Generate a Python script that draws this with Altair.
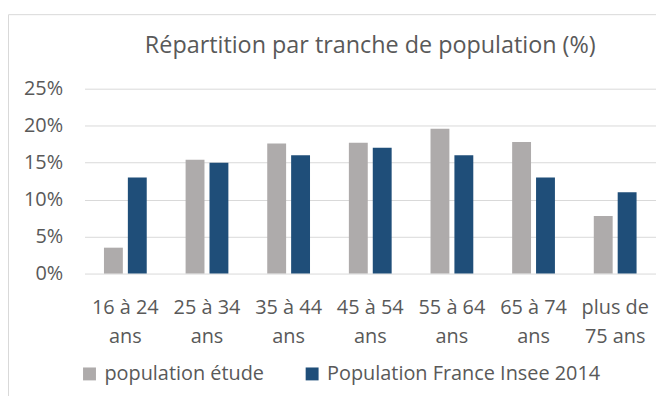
import altair as alt
import pandas as pd

categories = ["16 à 24\nans", "25 à 34\nans", "35 à 44\nans", "45 à 54\nans",
              "55 à 64\nans", "65 à 74\nans", "plus de\n75 ans"]
series_names = ["population étude", "Population France Insee 2014"]
etude = [3.5, 15.4, 17.6, 17.7, 19.6, 17.8, 7.8]
insee = [13.0, 15.0, 16.0, 17.0, 16.0, 13.0, 11.0]
colors = ["#AEABAB", "#1F4E79"]

rows = []
for c, a, b in zip(categories, etude, insee):
    rows.append({"cat": c, "serie": series_names[0], "val": a / 100})
    rows.append({"cat": c, "serie": series_names[1], "val": b / 100})
df = pd.DataFrame(rows)

FONT = "Open Sans"
TXT = "#595959"

bars = alt.Chart(df).mark_bar().encode(
    x=alt.X("cat:N", sort=categories, title=None,
            scale=alt.Scale(paddingInner=0.476, paddingOuter=0.238),
            axis=alt.Axis(labelAngle=0, labelExpr="split(datum.value, '\\n')",
                          labelLineHeight=29, labelPadding=24, ticks=False,
                          domain=False, grid=False, labelFontSize=20,
                          labelColor=TXT, labelFont=FONT, labelBaseline="top")),
    xOffset=alt.XOffset("serie:N", sort=series_names,
                        scale=alt.Scale(paddingInner=0.21, paddingOuter=0)),
    y=alt.Y("val:Q", title=None,
            scale=alt.Scale(domain=[0, 0.25]),
            axis=alt.Axis(values=[0, 0.05, 0.10, 0.15, 0.20, 0.25], format=".0%",
                          ticks=False, domain=False, gridColor="#d9d9d9",
                          gridWidth=1, labelPadding=22, labelFontSize=20,
                          labelColor=TXT, labelFont=FONT)),
    color=alt.Color("serie:N", sort=series_names,
                    scale=alt.Scale(domain=series_names, range=colors),
                    legend=alt.Legend(title=None, orient="none", direction="horizontal",
                                      legendX=-5, legendY=277, symbolType="square",
                                      symbolSize=169, symbolStrokeWidth=0,
                                      labelFontSize=20, labelFont=FONT, labelColor=TXT,
                                      labelOffset=5, columnPadding=38, labelLimit=500)),
)

frame = alt.Chart(alt.Data(values=[{"a": 1}])).mark_rect(
    fill="transparent", stroke="#d9d9d9", strokeWidth=1
).encode(
    x=alt.value(-76.5), x2=alt.value(700), y=alt.value(-74.5), y2=alt.value(316.5)
)

chart = alt.layer(frame, bars).properties(
    width=575, height=186,
    autosize=alt.AutoSizeParams(type="none"),
    padding={"left": 77, "top": 80, "right": 0, "bottom": 122},
    title=alt.TitleParams("Répartition par tranche de population (%)", fontSize=23.5,
                          font=FONT, color=TXT, fontWeight="normal", offset=0,
                          baseline="alphabetic", dy=62.5, anchor="middle"),
).configure_view(stroke=None)

chart.save("out.html", embed_options={"renderer": "svg", "actions": False})
